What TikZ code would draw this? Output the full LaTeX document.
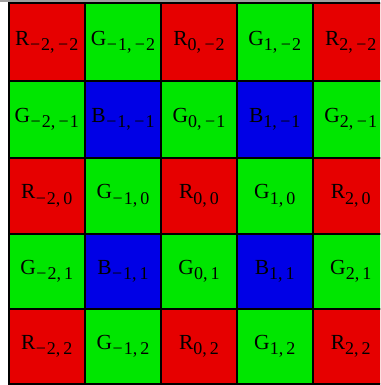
\documentclass[tikz,border=0pt]{standalone}
\usepackage{fontspec}
\setmainfont{Liberation Serif}
\definecolor{cR}{RGB}{230,0,0}
\definecolor{cG}{RGB}{0,230,0}
\definecolor{cB}{RGB}{0,0,230}
\definecolor{topgray}{RGB}{160,160,160}
\newcommand\sgnnum[1]{\ifnum#1<0 \hspace{0.5pt}−\hspace{1pt}\number\numexpr 0-(#1)\relax\else#1\fi}
\newcommand\pixsub[2]{\raisebox{-5.5pt}{\fontsize{18}{18}\selectfont #1,\hspace{3pt}#2}}
\begin{document}
\begin{tikzpicture}[x=1pt,y=-1pt,
  cell/.style={draw=black,line width=2pt},
  lbl/.style={font=\fontsize{21.5}{21.5}\selectfont, inner sep=0pt, text=black}]
\useasboundingbox (0,0) rectangle (380,385);
\fill[topgray] (0,0) rectangle (380,2.5);
\begin{scope}
\clip (0,0) rectangle (380,385);
\foreach \cc/\xa/\xb [count=\ci from 0] in {-2/8.5/85, -1/85/161, 0/161/237, 1/237/312.5, 2/312.5/389} {
  \foreach \rr/\ya/\yb [count=\ri from 0] in {-2/3.5/81, -1/81/158, 0/158/234, 1/234/308.5, 2/308.5/384} {
    \pgfmathtruncatemacro\kk{mod(\ri,2)*2+mod(\ci,2)}
    \ifcase\kk \def\L{R}\or\def\L{G}\or\def\L{G}\or\def\L{B}\fi
    \filldraw[cell, fill=c\L] (\xa,\ya) rectangle (\xb,\yb);
    \node[lbl] (n\ci\ri) at ({(\xa+\xb)/2},{(\ya+\yb)/2}) {\L\pixsub{\sgnnum{\cc}}{\sgnnum{\rr}}};
  }
}
\end{scope}
\end{tikzpicture}
\end{document}
